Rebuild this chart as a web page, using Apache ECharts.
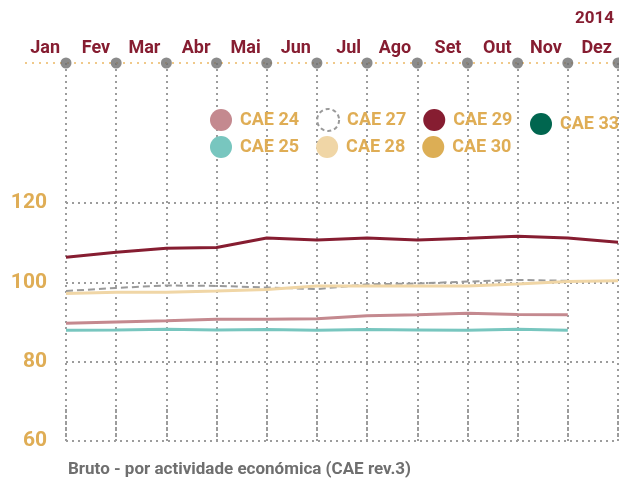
<!DOCTYPE html>
<html><head><meta charset="utf-8">
<script src="https://cdn.jsdelivr.net/npm/echarts@6/dist/echarts.min.js"></script>
<style>html,body{margin:0;padding:0;background:#fff}#c{width:619px;height:484px}</style>
</head><body><div id="c"></div>
<script>
var months = ['Jan','Fev','Mar','Abr','Mai','Jun','Jul','Ago','Set','Out','Nov','Dez'];
var yTicks = [60, 80, 100, 120];
var cae24 = [89.7, 90.0, 90.3, 90.7, 90.7, 90.8, 91.6, 91.8, 92.2, 91.9, 91.8];
var cae25 = [87.9, 88.0, 88.2, 88.0, 88.1, 87.9, 88.1, 88.0, 87.9, 88.2, 87.9];
var cae27 = [97.8, 98.6, 99.2, 99.1, 98.7, 98.3, 99.5, 99.7, 100.2, 100.6, 100.4];
var cae28 = [97.2, 97.5, 97.5, 97.8, 98.2, 99.1, 99.1, 99.1, 99.1, 99.6, 100.2, 100.4];
var cae29 = [106.3, 107.6, 108.6, 108.8, 111.2, 110.7, 111.2, 110.7, 111.1, 111.6, 111.2, 110.1];
var cae30 = [];
var cae33 = [];
var yearLabel = '2014';
var footnote = 'Bruto - por actividade económica (CAE rev.3)';

var C = {
  c24: '#c4898f', c25: '#78c6bf', c27: '#9a9a9a', c28: '#f0d6a6',
  c29: '#861d31', c30: '#dcae55', c33: '#00664f'
};
var gold = '#dfad55', red = '#861d31', grey = '#9c9c9c';
var font = 'Roboto';
var dotted = {color: grey, width: 2, type: [2, 4]};

var chart = echarts.init(document.getElementById('c'), null, {renderer: 'canvas'});
function legendItem(name, color) {
  return {name: name, icon: 'circle', itemStyle: {color: color, borderWidth: 0}};
}
var legendText = {color: gold, fontSize: 18, fontWeight: 'bold', fontFamily: font, padding: [0, 0, 0, 3]};
chart.setOption({
  animation: false,
  title: [
    {text: yearLabel, right: 0, top: 5, textStyle: {color: red, fontSize: 17, fontWeight: 'bold', fontFamily: font}},
    {text: footnote, left: 63, top: 456, textStyle: {color: '#6f6f6f', fontSize: 17, fontWeight: 'bold', fontFamily: font}}
  ],
  graphic: [{
    type: 'line', z: 1, shape: {x1: 25, y1: 63, x2: 619, y2: 63},
    style: {stroke: '#f0c98a', lineWidth: 2, lineDash: [2, 5]}
  }],
  legend: [
    {left: 205, top: 103, itemWidth: 22, itemHeight: 22, itemGap: 17, textStyle: legendText,
     data: [legendItem('CAE 24', C.c24),
            {name: 'CAE 27', icon: 'circle', itemStyle: {color: 'rgba(0,0,0,0)', borderColor: C.c27, borderWidth: 2, borderType: [4, 3]}},
            legendItem('CAE 29', C.c29)]},
    {left: 205, top: 131, itemWidth: 22, itemHeight: 22, itemGap: 17, textStyle: legendText,
     data: [legendItem('CAE 25', C.c25), legendItem('CAE 28', C.c28), legendItem('CAE 30', C.c30)]},
    {left: 525, top: 108, itemWidth: 22, itemHeight: 22, textStyle: legendText,
     data: [legendItem('CAE 33', C.c33)]}
  ],
  grid: [
    {left: 66, right: 1, top: 63, bottom: 43},
    {left: 66, right: 1, top: 203, bottom: 43}
  ],
  xAxis: [
    {gridIndex: 0, type: 'category', data: months, position: 'top', boundaryGap: false,
     axisLine: {show: false},
     axisTick: {show: true, length: 33, lineStyle: dotted},
     splitLine: {show: true, lineStyle: dotted},
     axisLabel: {align: 'right', padding: [0, 6, 0, 0], margin: 6, color: red, fontSize: 18, fontWeight: 'bold', fontFamily: font}},
    {gridIndex: 1, type: 'category', data: months, boundaryGap: false, show: false}
  ],
  yAxis: [
    {gridIndex: 0, type: 'value', min: 0, max: 1, show: false},
    {gridIndex: 1, type: 'value', min: yTicks[0], max: yTicks[yTicks.length - 1], interval: 20,
     axisLine: {show: false}, axisTick: {show: false},
     splitLine: {show: true, lineStyle: dotted},
     axisLabel: {margin: 19, color: gold, fontSize: 21, fontWeight: 'bold', fontFamily: font}}
  ],
  series: [
    {type: 'scatter', xAxisIndex: 0, yAxisIndex: 0, data: months.map(function () { return 1; }),
     symbolSize: 11, itemStyle: {color: '#6e6e6e'}, clip: false, silent: true, z: 5},
    {name: 'CAE 24', type: 'line', xAxisIndex: 1, yAxisIndex: 1, data: cae24, showSymbol: false,
     lineStyle: {color: C.c24, width: 3}, itemStyle: {color: C.c24}},
    {name: 'CAE 25', type: 'line', xAxisIndex: 1, yAxisIndex: 1, data: cae25, showSymbol: false,
     lineStyle: {color: C.c25, width: 3}, itemStyle: {color: C.c25}},
    {name: 'CAE 27', type: 'line', xAxisIndex: 1, yAxisIndex: 1, data: cae27, showSymbol: false,
     lineStyle: {color: C.c27, width: 2, type: [7, 4]}, itemStyle: {color: C.c27}},
    {name: 'CAE 28', type: 'line', xAxisIndex: 1, yAxisIndex: 1, data: cae28, showSymbol: false,
     lineStyle: {color: C.c28, width: 3}, itemStyle: {color: C.c28}},
    {name: 'CAE 29', type: 'line', xAxisIndex: 1, yAxisIndex: 1, data: cae29, showSymbol: false,
     lineStyle: {color: C.c29, width: 3}, itemStyle: {color: C.c29}},
    {name: 'CAE 30', type: 'line', xAxisIndex: 1, yAxisIndex: 1, data: cae30, showSymbol: false,
     lineStyle: {color: C.c30, width: 3}, itemStyle: {color: C.c30}},
    {name: 'CAE 33', type: 'line', xAxisIndex: 1, yAxisIndex: 1, data: cae33, showSymbol: false,
     lineStyle: {color: C.c33, width: 3}, itemStyle: {color: C.c33}}
  ]
});
</script></body></html>
